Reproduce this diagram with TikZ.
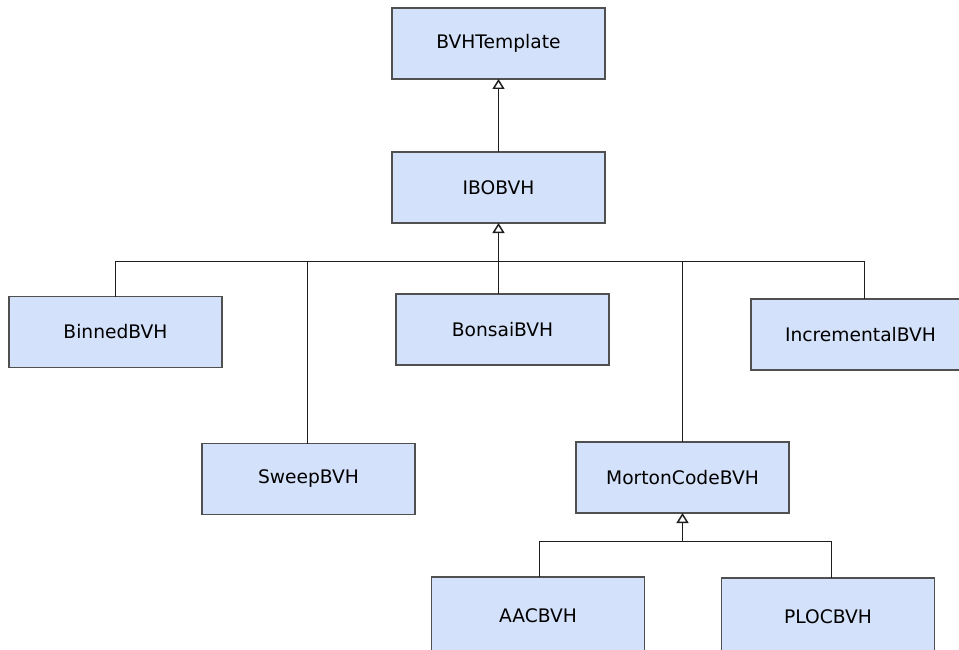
\documentclass[tikz,border=0pt]{standalone}
\usepackage{fontspec}
\setmainfont{DejaVu Sans}
\usetikzlibrary{arrows.meta,calc}
\definecolor{boxfill}{RGB}{212,225,250}
\definecolor{boxline}{RGB}{80,80,80}
\definecolor{wireline}{RGB}{30,30,30}
\tikzstyle{classbox}=[
  draw=boxline,
  fill=boxfill,
  font={\fontsize{14}{16}\selectfont},
  inner sep=0pt,
  minimum height=53.25pt,
  minimum width=159.75pt,
  outer sep=0pt,
  rectangle,
  text centered,
  line width=.9pt,
]
\tikzstyle{wire}=[
  draw=wireline,
  line width=1.1pt,
]
\tikzstyle{inherit}=[
  wire,
  -{Triangle[open,width=9pt,length=7.5pt]},
]
\begin{document}
\begin{tikzpicture}[x=.75pt,y=-.75pt]
    \useasboundingbox (0,0) rectangle (959,649);
    \node (bvhtemplate) [classbox] at (498.5,43.5) {BVHTemplate};
    \node (ibobvh) [classbox] at (498.5,187.5) {IBOBVH};
    \node (binnedbvh) [classbox] at (115.5,332) {BinnedBVH};
    \node (bonsaibvh) [classbox] at (502.5,329.5) {BonsaiBVH};
    \node (incrementalbvh) [classbox, minimum width=164.25pt] at (860.5,334.5) {IncrementalBVH};
    \node (sweepbvh) [classbox] at (308.5,479) {SweepBVH};
    \node (mortoncodebvh) [classbox] at (682.5,477.5) {MortonCodeBVH};
    \node (aacbvh) [classbox, minimum height=58.5pt] at (538,616) {AACBVH};
    \node (plocbvh) [classbox, minimum height=58.5pt] at (828,617) {PLOCBVH};
    % junctions on the buses
    \coordinate (bus) at (498.5,261.5);
    \coordinate (subbus) at (682.5,541.5);
    \draw [inherit] (ibobvh) -- (bvhtemplate);
    \draw [inherit] (bus) -- (ibobvh);
    \draw [wire] (bus) -- (bonsaibvh.north -| bus);
    \draw [wire] (binnedbvh.north) |- (bus) -| (incrementalbvh.north -| 864.5,0);
    \draw [wire] (sweepbvh.north -| 307.5,0) -- (307.5,261.5);
    \draw [wire] (mortoncodebvh.north) -- (mortoncodebvh.north |- bus);
    \draw [inherit] (subbus) -- (mortoncodebvh);
    \draw [wire] (aacbvh.north -| 539.5,0) |- (subbus) -| (plocbvh.north -| 831.5,0);
  \end{tikzpicture}
\end{document}
